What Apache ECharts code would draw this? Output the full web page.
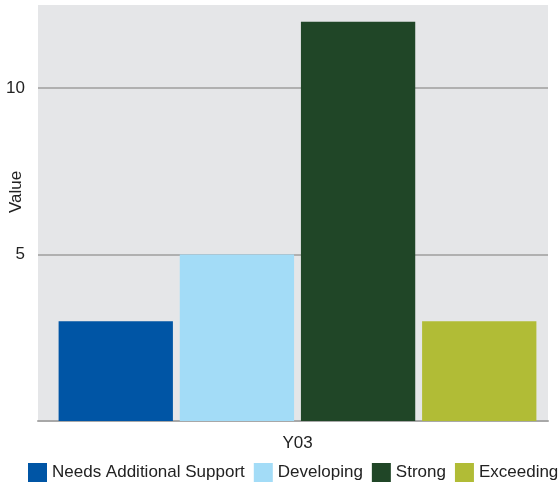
<!DOCTYPE html>
<html>
<head>
<meta charset="utf-8">
<script src="https://cdn.jsdelivr.net/npm/echarts@6/dist/echarts.min.js"></script>
<style>html,body{margin:0;padding:0;background:#fff}#c{width:560px;height:490px}</style>
</head>
<body>
<div id="c"></div>
<script>
const categories = ['Y03'];
const seriesNames = ['Needs Additional Support', 'Developing', 'Strong', 'Exceeding'];
const seriesValues = [[3], [5], [12], [3]];
const seriesColors = ['#0055a5', '#a3dcf7', '#204627', '#b1bc36'];
const yTicks = [0, 5, 10];
const yMax = 12.5;

const FONT = '"Liberation Sans", Arial, sans-serif';
const chart = echarts.init(document.getElementById('c'), null, {renderer: 'canvas'});
chart.setOption({
  animation: false,
  textStyle: {fontFamily: FONT},
  grid: [
    {left: 38, right: 12, top: 5, bottom: 69, show: true, backgroundColor: '#e5e6e8', borderWidth: 0,
      containLabel: false, outerBoundsMode: 'none'},
    {left: 42, right: 7, top: 5, bottom: 69, show: false, containLabel: false, outerBoundsMode: 'none'}
  ],
  legend: {
    data: seriesNames, left: 28, top: 463, width: 560, padding: 0, icon: 'rect',
    itemWidth: 19, itemHeight: 19, itemGap: 9,
    textStyle: {fontFamily: FONT, fontSize: 17, color: '#222'}
  },
  xAxis: [
    {
      gridIndex: 0, type: 'category', data: categories,
      axisLine: {show: true, lineStyle: {color: '#a8a8a8', width: 2}},
      axisTick: {show: false}, axisLabel: {show: false}
    },
    {
      gridIndex: 1, type: 'category', data: categories,
      axisLine: {show: false}, axisTick: {show: false},
      axisLabel: {fontFamily: FONT, fontSize: 17, color: '#222', margin: 14}
    }
  ],
  yAxis: [
    {
      gridIndex: 0, type: 'value', min: 0, max: yMax, interval: 5,
      name: 'Value', nameLocation: 'middle', nameGap: 13, nameMoveOverlap: false,
      nameTextStyle: {fontFamily: FONT, fontSize: 17, color: '#222', padding: [0, 0, 0, 42]},
      axisLine: {show: false}, axisTick: {show: false},
      axisLabel: {fontFamily: FONT, fontSize: 17, color: '#222', margin: 13,
        formatter: v => (yTicks.indexOf(v) > 0 ? String(v) : '')},
      splitLine: {show: true, showMinLine: false, showMaxLine: false, lineStyle: {color: '#b0b0b0', width: 2}}
    },
    {
      gridIndex: 1, type: 'value', min: 0, max: yMax, interval: 5, show: false,
      splitLine: {show: false}
    }
  ],
  series: seriesNames.map((n, i) => ({
    name: n, type: 'bar', data: seriesValues[i], xAxisIndex: 1, yAxisIndex: 1,
    itemStyle: {color: seriesColors[i]},
    barGap: '6%', barCategoryGap: '6.5%'
  }))
});
</script>
</body>
</html>
